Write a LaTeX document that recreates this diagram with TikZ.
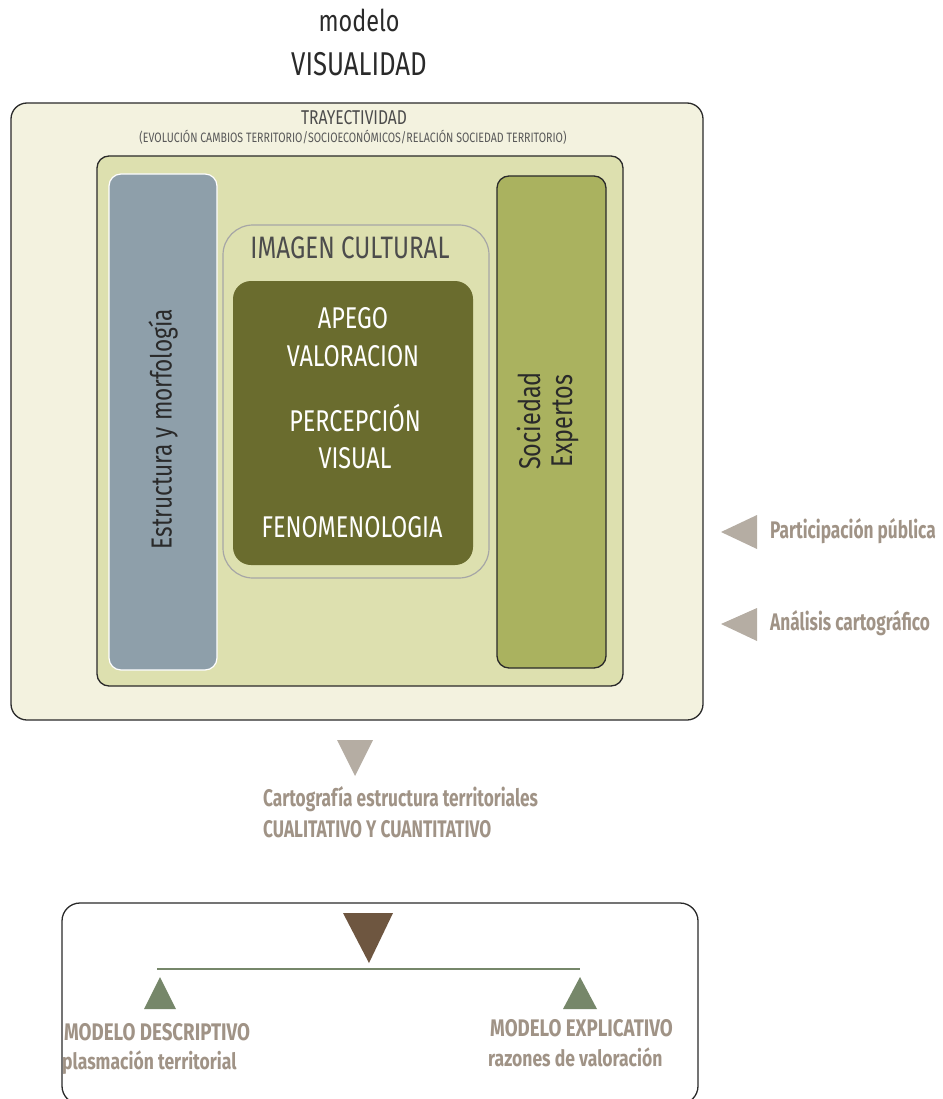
\documentclass[tikz,border=0pt]{standalone}
\usepackage{fontspec}
\setmainfont{Fira Sans}[FakeStretch=0.78]
\newfontfamily\narrowfont{Fira Sans}[FakeStretch=0.72]
\newcommand\fsz[1]{\fontsize{#1}{#1}\selectfont}
\definecolor{cream}{HTML}{F3F2DF}
\definecolor{paleolive}{HTML}{DDE0AF}
\definecolor{slate}{HTML}{8E9FAA}
\definecolor{moss}{HTML}{AAB25F}
\definecolor{darkolive}{HTML}{6A6C2E}
\definecolor{taupe}{HTML}{B5ADA3}
\definecolor{taupetext}{HTML}{A09386}
\definecolor{brownarrow}{HTML}{6E5640}
\definecolor{sage}{HTML}{76876A}
\definecolor{frame}{HTML}{2A2A2A}
\tikzset{
  panel/.style={draw=frame, line width=1.3pt, rounded corners=#1},
  label/.style={inner sep=0pt, text=taupetext},
  sidelabel/.style={label, anchor=west, font=\narrowfont\fsz{24}\bfseries},
  whitetxt/.style={inner sep=0pt, text=white, font=\fsz{30}},
}
\begin{document}
\begin{tikzpicture}[x=1pt,y=-1pt]
\useasboundingbox (0,0) rectangle (942,1099);
\clip (0,0) rectangle (942,1099);
% heading
\node[inner sep=0pt, text=frame, font=\fsz{30}] (h1) at (359,20) {modelo};
\node[inner sep=0pt, text=frame, font=\fsz{33}] (h2) at (359,64) {VISUALIDAD};
% outer frame: trajectory
\draw[panel=16, fill=cream] (11,103) rectangle (703,720);
\node[inner sep=0pt, text=black!70, font=\fsz{20}] (tr) at (354,118) {TRAYECTIVIDAD};
\node[inner sep=0pt, text=black!65, font=\fsz{13.6}] (trs) at (353,137) {(EVOLUCIÓN CAMBIOS TERRITORIO/SOCIOECONÓMICOS/RELACIÓN SOCIEDAD TERRITORIO)};
% inner frame
\draw[panel=12, fill=paleolive] (97,156) rectangle (623,686);
% left column
\draw[draw=white, line width=1.2pt, fill=slate, rounded corners=12] (109,174) rectangle (217,670);
\node[inner sep=0pt, rotate=90, text=frame, font=\fsz{29}] (em) at (163,429) {Estructura y morfología};
% right column
\draw[panel=12, fill=moss] (497,176) rectangle (606,668);
\node[inner sep=0pt, rotate=90, text=frame, font=\fsz{30}, align=center] (se) at (548,421) {Sociedad\\[2pt]Expertos};
% cultural image
\draw[draw=black!35, line width=1.2pt, fill=paleolive, rounded corners=30] (223,225) rectangle (489,578);
\node[inner sep=0pt, text=black!70, font=\fsz{31}] (ic) at (350,248) {IMAGEN CULTURAL};
\draw[fill=darkolive, draw=none, rounded corners=18] (233,281) rectangle (473,565);
\node[whitetxt] (a1) at (353,318) {APEGO};
\node[whitetxt] (a2) at (353,356) {VALORACION};
\node[whitetxt] (a3) at (355,418) {PERCEPCIÓN};
\node[whitetxt] (a4) at (355,458) {VISUAL};
\node[whitetxt] (a5) at (352,527) {FENOMENOLOGIA};
% side inputs
\fill[taupe] (721,532) -- (757,515) -- (757,549) -- cycle;
\node[sidelabel] (pp) at (770,531) {Participación pública};
\fill[taupe] (721,624) -- (757,608) -- (757,641) -- cycle;
\node[sidelabel] (ac) at (770,623) {Análisis cartográfico};
% output
\fill[taupe] (337,740) -- (373,740) -- (355,776) -- cycle;
\node[sidelabel] (c1) at (263,799) {Cartografía estructura territoriales};
\node[sidelabel] (c2) at (263,829) {CUALITATIVO Y CUANTITATIVO};
% models
\draw[panel=18, fill=white] (62,903) rectangle (698,1104);
\fill[brownarrow] (343,913) -- (393,913) -- (369,963) -- cycle;
\coordinate (bl) at (157,969);
\coordinate (br) at (580,969);
\draw[sage, line width=1.6pt] (bl) -- (br);
\fill[sage] (160,977) -- (176,1009) -- (144,1009) -- cycle;
\fill[sage] (580,977) -- (597,1009) -- (563,1009) -- cycle;
\node[label, anchor=west, font=\fsz{24}\bfseries] (m1) at (64,1032) {MODELO DESCRIPTIVO};
\node[label, anchor=west, font=\fsz{22.5}\bfseries] (m1s) at (62,1063) {plasmación territorial};
\node[label, anchor=west, font=\fsz{24}\bfseries] (m2) at (490,1028) {MODELO EXPLICATIVO};
\node[label, anchor=west, font=\fsz{22.5}\bfseries] (m2s) at (488,1057) {razones de valoración};
\end{tikzpicture}
\end{document}
